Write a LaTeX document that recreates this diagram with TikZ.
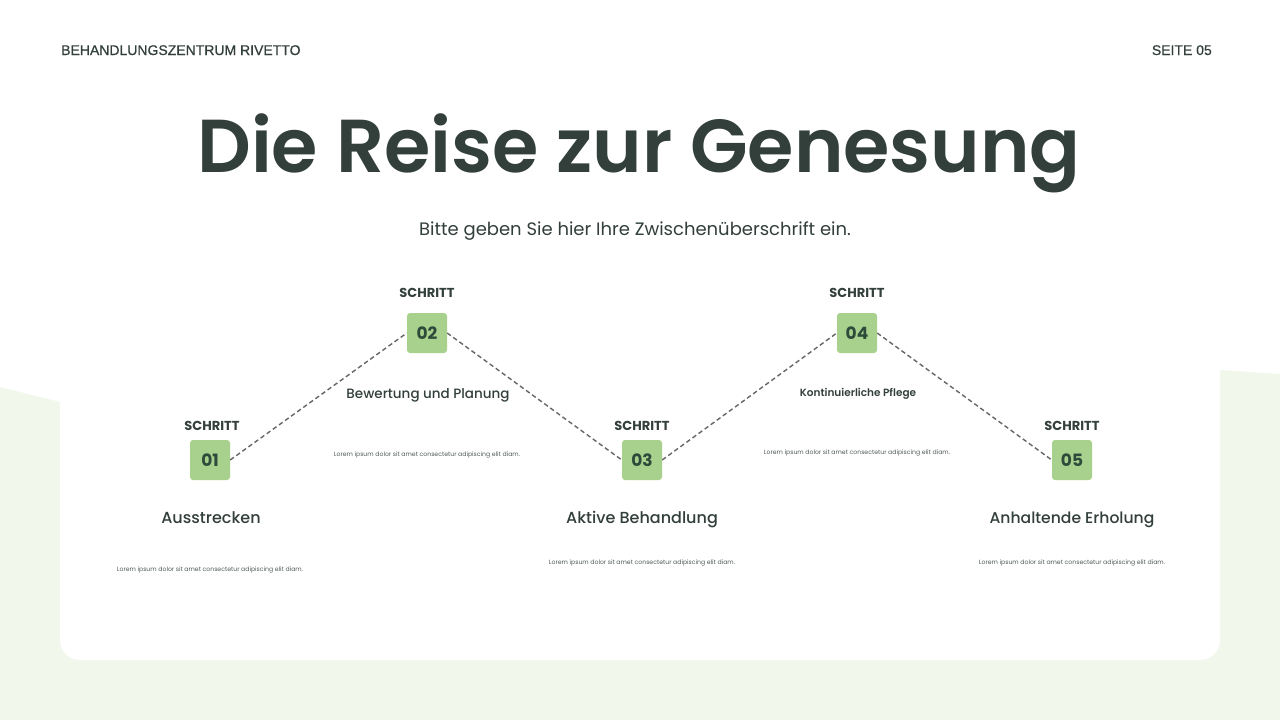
\documentclass[tikz,border=0pt]{standalone}
\usepackage{fontspec}
\setmainfont{Poppins}
\newfontfamily\popmed{Poppins}[UprightFont=* Medium]
\newfontfamily\popsemi{Poppins}[UprightFont=* SemiBold]
\newfontfamily\popbold{Poppins}[UprightFont=* Bold]
\newfontfamily\headfont{Liberation Sans}[FakeBold=0.6]
\definecolor{ink}{HTML}{323F3A}
\definecolor{boxink}{HTML}{2E4A3A}
\definecolor{leaf}{HTML}{A8D18D}
\definecolor{mist}{HTML}{F1F7EA}
\definecolor{dash}{HTML}{666666}
\newcommand{\lorem}{Lorem ipsum dolor sit amet consectetur adipiscing elit diam.}
\begin{document}
\begin{tikzpicture}%
	[x=1pt, y=-1pt,
	header/.style={anchor=base, inner sep=0pt, text=ink, font=\headfont\fontsize{14}{14}\selectfont},
	steplabel/.style={anchor=base, inner sep=0pt, text=ink, font=\popbold\fontsize{13}{13}\selectfont},
	stepbox/.style={draw=none, fill=leaf, rounded corners=3pt, minimum width=40pt, minimum height=40pt, inner sep=0pt, text=boxink, font=\popbold\fontsize{17}{17}\selectfont},
	steptitle/.style={anchor=base, inner sep=0pt, text=ink, font=\popmed\fontsize{16}{16}\selectfont},
	lorem/.style={anchor=base, inner sep=0pt, text=ink!85, font=\fontsize{6.15}{6.15}\selectfont},
	link/.style={draw=dash, line width=1.4pt, dash pattern=on 4.5pt off 3pt}]
%
%% background
\fill[white] (0,0) rectangle (1280,720);
\fill[mist] (0,387) -- (60,402) -- (1220,370) -- (1280,374) -- (1280,720) -- (0,720) -- cycle;
\fill[white, rounded corners=20pt] (60,200) rectangle (1220,660);
\useasboundingbox (0,0) rectangle (1280,720);
%%
%% header and title
\node[header, anchor=base west] (brand) at (61,55) {BEHANDLUNGSZENTRUM RIVETTO};
\node[header, anchor=base east] (page) at (1212,55) {SEITE 05};
\node[anchor=base, inner sep=0pt, text=ink, font=\popsemi\fontsize{75}{75}\selectfont] (title) at (639,172) {Die Reise zur Genesung};
\node[anchor=base, inner sep=0pt, text=ink, font=\fontsize{18}{18}\selectfont] (subtitle) at (635,235) {Bitte geben Sie hier Ihre Zwischenüberschrift ein.};
%%
%% steps
\node[stepbox] (s1) at (210,460) {01};
\node[stepbox] (s2) at (427,333) {02};
\node[stepbox] (s3) at (642,460) {03};
\node[stepbox] (s4) at (857,333) {04};
\node[stepbox] (s5) at (1072,460) {05};
%
\node[steplabel] (k1) at (212,430) {SCHRITT};
\node[steplabel] (k2) at (427,297) {SCHRITT};
\node[steplabel] (k3) at (642,430) {SCHRITT};
\node[steplabel] (k4) at (857,297) {SCHRITT};
\node[steplabel] (k5) at (1072,430) {SCHRITT};
%
\node[steptitle] (t1) at (211,523) {Ausstrecken};
\node[steptitle, font=\popmed\fontsize{13.5}{13.5}\selectfont] (t2) at (428,398) {Bewertung und Planung};
\node[steptitle] (t3) at (642,523) {Aktive Behandlung};
\node[steptitle, font=\popsemi\fontsize{10.5}{10.5}\selectfont] (t4) at (858,396) {Kontinuierliche Pflege};
\node[steptitle, font=\popmed\fontsize{15.6}{15.6}\selectfont] (t5) at (1072,523) {Anhaltende Erholung};
%
\node[lorem] (d1) at (210,571) {\lorem};
\node[lorem] (d2) at (427,456) {\lorem};
\node[lorem] (d3) at (642,564) {\lorem};
\node[lorem] (d4) at (857,454) {\lorem};
\node[lorem] (d5) at (1072,564) {\lorem};
%%
%% dashed path
\draw[link] (s1.east) -- (s2.west);
\draw[link] (s2.east) -- (s3.west);
\draw[link] (s3.east) -- (s4.west);
\draw[link] (s4.east) -- (s5.west);
\end{tikzpicture}
\end{document}
